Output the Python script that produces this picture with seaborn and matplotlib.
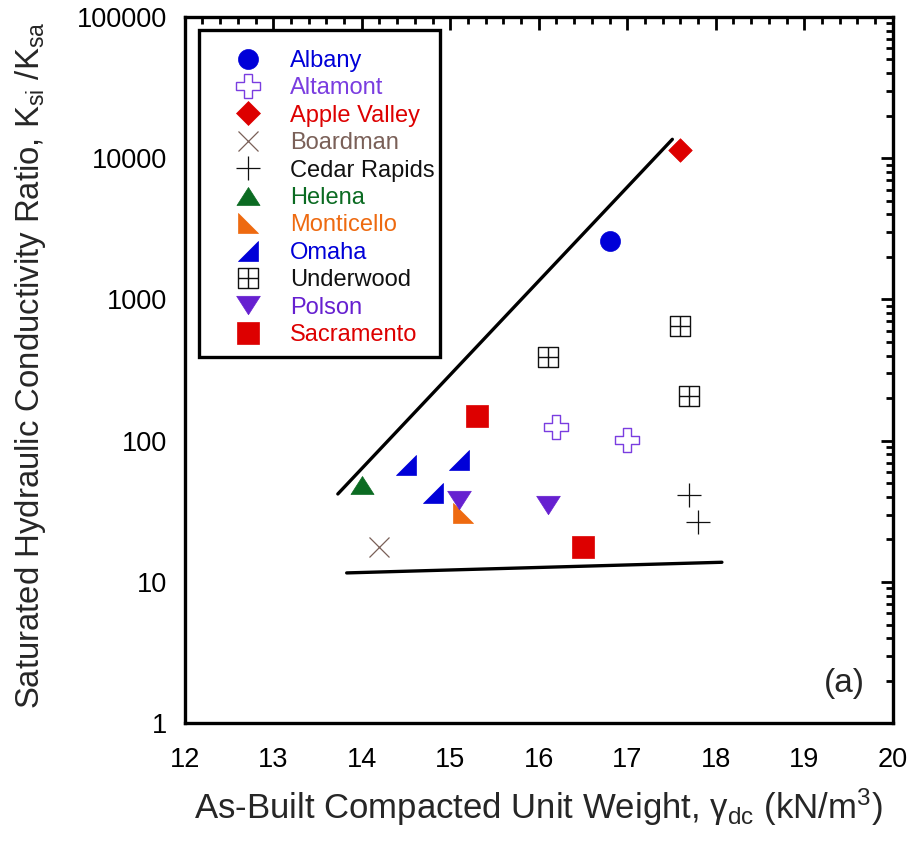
import numpy as np
import pandas as pd
import matplotlib
matplotlib.use("Agg")
import matplotlib.pyplot as plt
from matplotlib.path import Path
from matplotlib.lines import Line2D
from matplotlib.patches import Rectangle
import seaborn as sns

# Field sites and their compacted unit weight / conductivity ratio pairs
albany_x, albany_y = [16.8], [2600]
altamont_x, altamont_y = [16.2, 17.0], [125, 101]
apple_valley_x, apple_valley_y = [17.6], [11500]
boardman_x, boardman_y = [14.2], [17.7]
cedar_rapids_x, cedar_rapids_y = [17.7, 17.8], [41.6, 26.5]
helena_x, helena_y = [14.0], [49]
monticello_x, monticello_y = [15.15], [31]
omaha_x, omaha_y = [14.5, 15.1, 14.8], [67, 73, 43]
underwood_x, underwood_y = [16.1, 17.6, 17.7], [390, 650, 208]
polson_x, polson_y = [15.1, 16.1], [38, 35]
sacramento_x, sacramento_y = [15.3, 16.5], [150, 17.7]

# Envelope lines bounding the data
upper_x, upper_y = [13.73, 17.51], [42, 13600]
lower_x, lower_y = [13.83, 18.07], [11.6, 13.8]

sites = ["Albany", "Altamont", "Apple Valley", "Boardman", "Cedar Rapids",
         "Helena", "Monticello", "Omaha", "Underwood", "Polson", "Sacramento"]
xs = [albany_x, altamont_x, apple_valley_x, boardman_x, cedar_rapids_x,
      helena_x, monticello_x, omaha_x, underwood_x, polson_x, sacramento_x]
ys = [albany_y, altamont_y, apple_valley_y, boardman_y, cedar_rapids_y,
      helena_y, monticello_y, omaha_y, underwood_y, polson_y, sacramento_y]

df = pd.DataFrame({
    "site": [s for s, x in zip(sites, xs) for _ in x],
    "unit_weight": [v for x in xs for v in x],
    "ratio": [v for y in ys for v in y],
})

sns.set_theme(style="white")
plt.rcParams["font.family"] = ["Liberation Sans", "DejaVu Sans"]
plt.rcParams["mathtext.fontset"] = "custom"
plt.rcParams["mathtext.rm"] = "Liberation Sans"
plt.rcParams["mathtext.it"] = "Liberation Sans:italic"

# Custom marker shapes
tri_up = Path([(-1, -0.78), (1, -0.78), (0, 0.78), (-1, -0.78)], closed=True)
tri_down = Path([(-1, 0.78), (1, 0.78), (0, -0.78), (-1, 0.78)], closed=True)
tri_bl = Path([(-1, 1), (-1, -1), (1, -1), (-1, 1)], closed=True)
tri_br = Path([(1, 1), (1, -1), (-1, -1), (1, 1)], closed=True)
grid_sq = Path(
    [(-1, -1), (1, -1), (1, 1), (-1, 1), (-1, -1),
     (0, -1), (0, 1), (-1, 0), (1, 0)],
    [Path.MOVETO, Path.LINETO, Path.LINETO, Path.LINETO, Path.CLOSEPOLY,
     Path.MOVETO, Path.LINETO, Path.MOVETO, Path.LINETO],
)

# style: marker, color, size(pt), filled, edge width
styles = {
    "Albany":       ("o", "#0000d8", 14.4, True, 0.5),
    "Altamont":     ("P", "#7a3de0", 17.3, False, 1.0),
    "Apple Valley": ("D", "#dd0000", 12.0, True, 0.5),
    "Boardman":     ("x", "#7a6058", 14.4, False, 0.9),
    "Cedar Rapids": ("+", "#111111", 17.3, False, 0.9),
    "Helena":       (tri_up, "#0b6b22", 16.6, True, 0.5),
    "Monticello":   (tri_bl, "#ee6a10", 13.7, True, 0.5),
    "Omaha":        (tri_br, "#0000d8", 13.7, True, 0.5),
    "Underwood":    (grid_sq, "#111111", 14.4, False, 1.0),
    "Polson":       (tri_down, "#6620d0", 17.0, True, 0.5),
    "Sacramento":   ("s", "#dd0000", 15.6, True, 0.5),
}

fig = plt.figure(figsize=(9.10, 8.44), dpi=100)
ax = fig.add_axes([0.203, 0.143, 0.778, 0.837])

for site in sites:
    m, c, ms, filled, lw = styles[site]
    sub = df[df["site"] == site]
    if filled:
        sns.scatterplot(data=sub, x="unit_weight", y="ratio", marker=m,
                        color=c, edgecolor=c, s=ms ** 2, linewidth=lw,
                        ax=ax, legend=False, zorder=3)
    elif m in ("x", "+"):
        sns.scatterplot(data=sub, x="unit_weight", y="ratio", marker=m,
                        color=c, s=ms ** 2, linewidth=lw,
                        ax=ax, legend=False, zorder=3)
    else:
        sns.scatterplot(data=sub, x="unit_weight", y="ratio", marker=m,
                        facecolor="none", edgecolor=c, s=ms ** 2,
                        linewidth=lw, ax=ax, legend=False, zorder=3)

sns.lineplot(x=upper_x, y=upper_y, color="black", linewidth=2.4, ax=ax,
             estimator=None, sort=False)
sns.lineplot(x=lower_x, y=lower_y, color="black", linewidth=2.4, ax=ax,
             estimator=None, sort=False)

ax.set_yscale("log")
ax.set_xlim(12, 20)
ax.set_ylim(1, 100000)
ax.set_xticks(np.arange(12, 21, 1))
ax.set_xticks(np.arange(12, 20.01, 0.2), minor=True)
ax.set_yticks([1, 10, 100, 1000, 10000, 100000])
ax.set_yticklabels(["1", "10", "100", "1000", "10000", "100000"])
ax.yaxis.set_minor_locator(matplotlib.ticker.LogLocator(base=10, subs=np.arange(2, 10)))
ax.yaxis.set_minor_formatter(matplotlib.ticker.NullFormatter())

ax.tick_params(which="both", direction="in", top=True, right=True,
               width=2.0, colors="black", labelsize=19.5)
ax.tick_params(axis="x", which="major", pad=17)
ax.tick_params(axis="y", which="major", pad=13)
ax.tick_params(which="major", length=9)
ax.tick_params(which="minor", length=5)
for sp in ax.spines.values():
    sp.set_linewidth(2.4)
    sp.set_color("black")

ax.set_xlabel("As-Built Compacted Unit Weight, γ$_{\\mathrm{dc}}$ (kN/m$^{3}$)",
              fontsize=25, labelpad=10)
ax.set_ylabel("Saturated Hydraulic Conductivity Ratio, K$_{\\mathrm{si}}$ /K$_{\\mathrm{sa}}$",
              fontsize=23.7)
ax.yaxis.set_label_coords(-0.193, 0.507)

ax.text(0.932, 0.057, "(a)", transform=ax.transAxes, fontsize=24,
        ha="center", va="center")

handles = []
for site in sites:
    m, c, ms, filled, lw = styles[site]
    if filled:
        h = Line2D([], [], ls="none", marker=m, markersize=ms, color=c,
                   markeredgecolor=c, markeredgewidth=lw)
    elif m in ("x", "+"):
        h = Line2D([], [], ls="none", marker=m, markersize=ms, color=c,
                   markeredgewidth=lw)
    else:
        h = Line2D([], [], ls="none", marker=m, markersize=ms,
                   markerfacecolor="none", markeredgecolor=c,
                   markeredgewidth=lw)
    handles.append(h)

# Legend box drawn separately so its padding can be set freely
ax.add_patch(Rectangle((0.0198, 0.518), 0.3404, 0.4636, transform=ax.transAxes,
                       facecolor="white", edgecolor="black", linewidth=2.4,
                       zorder=4))
leg = ax.legend(handles, sites, loc="upper left",
                bbox_to_anchor=(0.0557, 0.9533), fontsize=17,
                frameon=False, labelspacing=0.23, handletextpad=0.79,
                borderpad=0, borderaxespad=0, handlelength=2.0)
leg.set_zorder(5)
for txt, site in zip(leg.get_texts(), sites):
    txt.set_color(styles[site][1])

fig.savefig("out.png", dpi=100)
